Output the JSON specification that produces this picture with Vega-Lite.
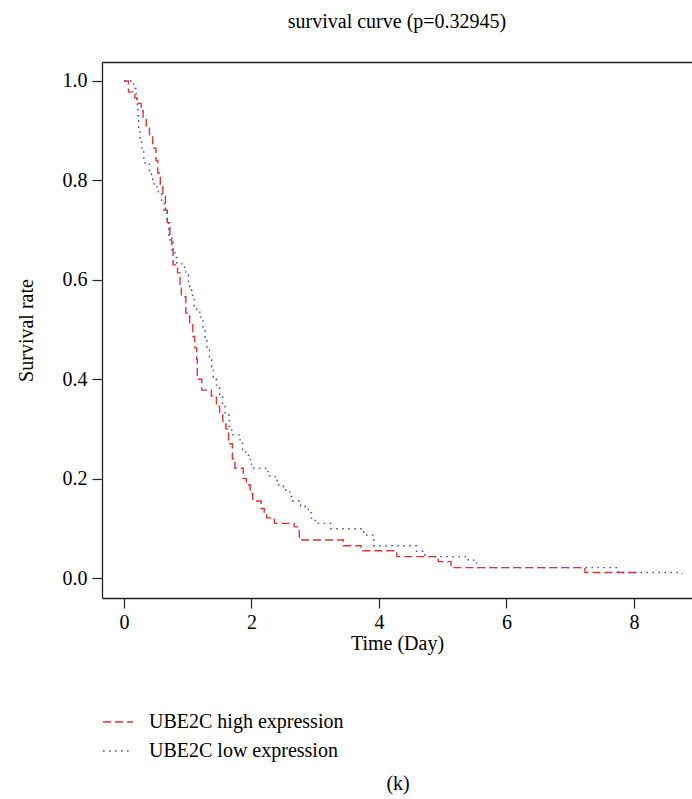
{
  "$schema": "https://vega.github.io/schema/vega-lite/v6.json",
  "autosize": "none",
  "padding": {"left": 102, "top": 62, "right": 0, "bottom": 201},
  "width": 590,
  "height": 536,
  "background": "white",
  "config": {
    "font": "Liberation Serif",
    "view": {"stroke": null},
    "axis": {"grid": false, "labelFont": "Liberation Serif", "titleFont": "Liberation Serif", "labelFontSize": 20, "titleFontSize": 20, "titleFontWeight": "normal", "labelColor": "black", "titleColor": "black", "domainColor": "#222", "domainWidth": 1.3, "tickColor": "#222", "tickWidth": 1.2, "tickSize": 10},
    "title": {"font": "Liberation Serif", "fontSize": 20, "fontWeight": "normal", "color": "black"}
  },
  "title": {"text": "survival curve (p=0.32945)", "anchor": "middle", "offset": 30},
  "datasets": {
    "surv": [
      {"group": "UBE2C high expression", "time": 0, "surv": 1.0},
      {"group": "UBE2C high expression", "time": 0.07, "surv": 0.978},
      {"group": "UBE2C high expression", "time": 0.17, "surv": 0.966},
      {"group": "UBE2C high expression", "time": 0.2, "surv": 0.955},
      {"group": "UBE2C high expression", "time": 0.27, "surv": 0.94},
      {"group": "UBE2C high expression", "time": 0.3, "surv": 0.925},
      {"group": "UBE2C high expression", "time": 0.35, "surv": 0.91},
      {"group": "UBE2C high expression", "time": 0.4, "surv": 0.89},
      {"group": "UBE2C high expression", "time": 0.45, "surv": 0.865},
      {"group": "UBE2C high expression", "time": 0.5, "surv": 0.84},
      {"group": "UBE2C high expression", "time": 0.53, "surv": 0.815},
      {"group": "UBE2C high expression", "time": 0.57, "surv": 0.79},
      {"group": "UBE2C high expression", "time": 0.61, "surv": 0.77},
      {"group": "UBE2C high expression", "time": 0.65, "surv": 0.74},
      {"group": "UBE2C high expression", "time": 0.68, "surv": 0.715},
      {"group": "UBE2C high expression", "time": 0.72, "surv": 0.69},
      {"group": "UBE2C high expression", "time": 0.75, "surv": 0.66},
      {"group": "UBE2C high expression", "time": 0.77, "surv": 0.63},
      {"group": "UBE2C high expression", "time": 0.84, "surv": 0.614},
      {"group": "UBE2C high expression", "time": 0.88, "surv": 0.59},
      {"group": "UBE2C high expression", "time": 0.9, "surv": 0.566},
      {"group": "UBE2C high expression", "time": 0.97, "surv": 0.533},
      {"group": "UBE2C high expression", "time": 1.03, "surv": 0.509},
      {"group": "UBE2C high expression", "time": 1.08, "surv": 0.486},
      {"group": "UBE2C high expression", "time": 1.11, "surv": 0.463},
      {"group": "UBE2C high expression", "time": 1.14, "surv": 0.44},
      {"group": "UBE2C high expression", "time": 1.15, "surv": 0.4},
      {"group": "UBE2C high expression", "time": 1.22, "surv": 0.378},
      {"group": "UBE2C high expression", "time": 1.37, "surv": 0.366},
      {"group": "UBE2C high expression", "time": 1.45, "surv": 0.345},
      {"group": "UBE2C high expression", "time": 1.5, "surv": 0.33},
      {"group": "UBE2C high expression", "time": 1.55, "surv": 0.31},
      {"group": "UBE2C high expression", "time": 1.6, "surv": 0.3},
      {"group": "UBE2C high expression", "time": 1.64, "surv": 0.27},
      {"group": "UBE2C high expression", "time": 1.7, "surv": 0.24},
      {"group": "UBE2C high expression", "time": 1.74, "surv": 0.221},
      {"group": "UBE2C high expression", "time": 1.87, "surv": 0.2},
      {"group": "UBE2C high expression", "time": 1.92, "surv": 0.187},
      {"group": "UBE2C high expression", "time": 1.98, "surv": 0.17},
      {"group": "UBE2C high expression", "time": 2.02, "surv": 0.155},
      {"group": "UBE2C high expression", "time": 2.15, "surv": 0.14},
      {"group": "UBE2C high expression", "time": 2.2, "surv": 0.13},
      {"group": "UBE2C high expression", "time": 2.24, "surv": 0.121},
      {"group": "UBE2C high expression", "time": 2.36, "surv": 0.11},
      {"group": "UBE2C high expression", "time": 2.67, "surv": 0.103},
      {"group": "UBE2C high expression", "time": 2.75, "surv": 0.0765},
      {"group": "UBE2C high expression", "time": 3.44, "surv": 0.065},
      {"group": "UBE2C high expression", "time": 3.72, "surv": 0.055},
      {"group": "UBE2C high expression", "time": 4.28, "surv": 0.043},
      {"group": "UBE2C high expression", "time": 4.93, "surv": 0.033},
      {"group": "UBE2C high expression", "time": 5.13, "surv": 0.021},
      {"group": "UBE2C high expression", "time": 7.23, "surv": 0.011},
      {"group": "UBE2C high expression", "time": 8.1, "surv": 0.011},
      {"group": "UBE2C low expression", "time": 0, "surv": 1.0},
      {"group": "UBE2C low expression", "time": 0.15, "surv": 0.985},
      {"group": "UBE2C low expression", "time": 0.19, "surv": 0.965},
      {"group": "UBE2C low expression", "time": 0.21, "surv": 0.945},
      {"group": "UBE2C low expression", "time": 0.22, "surv": 0.93},
      {"group": "UBE2C low expression", "time": 0.23, "surv": 0.9},
      {"group": "UBE2C low expression", "time": 0.25, "surv": 0.88},
      {"group": "UBE2C low expression", "time": 0.28, "surv": 0.86},
      {"group": "UBE2C low expression", "time": 0.31, "surv": 0.845},
      {"group": "UBE2C low expression", "time": 0.33, "surv": 0.835},
      {"group": "UBE2C low expression", "time": 0.4, "surv": 0.82},
      {"group": "UBE2C low expression", "time": 0.43, "surv": 0.807},
      {"group": "UBE2C low expression", "time": 0.45, "surv": 0.797},
      {"group": "UBE2C low expression", "time": 0.47, "surv": 0.787},
      {"group": "UBE2C low expression", "time": 0.54, "surv": 0.777},
      {"group": "UBE2C low expression", "time": 0.59, "surv": 0.76},
      {"group": "UBE2C low expression", "time": 0.63, "surv": 0.74},
      {"group": "UBE2C low expression", "time": 0.67, "surv": 0.715},
      {"group": "UBE2C low expression", "time": 0.7, "surv": 0.69},
      {"group": "UBE2C low expression", "time": 0.72, "surv": 0.675},
      {"group": "UBE2C low expression", "time": 0.77, "surv": 0.657},
      {"group": "UBE2C low expression", "time": 0.8, "surv": 0.645},
      {"group": "UBE2C low expression", "time": 0.83, "surv": 0.632},
      {"group": "UBE2C low expression", "time": 0.95, "surv": 0.62},
      {"group": "UBE2C low expression", "time": 0.97, "surv": 0.61},
      {"group": "UBE2C low expression", "time": 1.01, "surv": 0.597},
      {"group": "UBE2C low expression", "time": 1.03, "surv": 0.58},
      {"group": "UBE2C low expression", "time": 1.06, "surv": 0.569},
      {"group": "UBE2C low expression", "time": 1.1, "surv": 0.546},
      {"group": "UBE2C low expression", "time": 1.14, "surv": 0.535},
      {"group": "UBE2C low expression", "time": 1.19, "surv": 0.525},
      {"group": "UBE2C low expression", "time": 1.24, "surv": 0.505},
      {"group": "UBE2C low expression", "time": 1.27, "surv": 0.482},
      {"group": "UBE2C low expression", "time": 1.3, "surv": 0.46},
      {"group": "UBE2C low expression", "time": 1.34, "surv": 0.445},
      {"group": "UBE2C low expression", "time": 1.375, "surv": 0.425},
      {"group": "UBE2C low expression", "time": 1.4, "surv": 0.405},
      {"group": "UBE2C low expression", "time": 1.45, "surv": 0.388},
      {"group": "UBE2C low expression", "time": 1.5, "surv": 0.365},
      {"group": "UBE2C low expression", "time": 1.545, "surv": 0.345},
      {"group": "UBE2C low expression", "time": 1.585, "surv": 0.328},
      {"group": "UBE2C low expression", "time": 1.65, "surv": 0.305},
      {"group": "UBE2C low expression", "time": 1.69, "surv": 0.288},
      {"group": "UBE2C low expression", "time": 1.82, "surv": 0.274},
      {"group": "UBE2C low expression", "time": 1.86, "surv": 0.258},
      {"group": "UBE2C low expression", "time": 1.91, "surv": 0.247},
      {"group": "UBE2C low expression", "time": 1.98, "surv": 0.234},
      {"group": "UBE2C low expression", "time": 2.0, "surv": 0.221},
      {"group": "UBE2C low expression", "time": 2.26, "surv": 0.214},
      {"group": "UBE2C low expression", "time": 2.29, "surv": 0.204},
      {"group": "UBE2C low expression", "time": 2.37, "surv": 0.197},
      {"group": "UBE2C low expression", "time": 2.4, "surv": 0.187},
      {"group": "UBE2C low expression", "time": 2.5, "surv": 0.177},
      {"group": "UBE2C low expression", "time": 2.6, "surv": 0.164},
      {"group": "UBE2C low expression", "time": 2.63, "surv": 0.155},
      {"group": "UBE2C low expression", "time": 2.77, "surv": 0.145},
      {"group": "UBE2C low expression", "time": 2.84, "surv": 0.14},
      {"group": "UBE2C low expression", "time": 2.89, "surv": 0.131},
      {"group": "UBE2C low expression", "time": 2.94, "surv": 0.12},
      {"group": "UBE2C low expression", "time": 3.0, "surv": 0.11},
      {"group": "UBE2C low expression", "time": 3.24, "surv": 0.099},
      {"group": "UBE2C low expression", "time": 3.76, "surv": 0.0865},
      {"group": "UBE2C low expression", "time": 3.92, "surv": 0.065},
      {"group": "UBE2C low expression", "time": 4.59, "surv": 0.054},
      {"group": "UBE2C low expression", "time": 4.72, "surv": 0.043},
      {"group": "UBE2C low expression", "time": 5.4, "surv": 0.036},
      {"group": "UBE2C low expression", "time": 5.5, "surv": 0.03},
      {"group": "UBE2C low expression", "time": 5.55, "surv": 0.021},
      {"group": "UBE2C low expression", "time": 7.75, "surv": 0.011},
      {"group": "UBE2C low expression", "time": 8.75, "surv": 0.008}
    ],
    "caption": [{"label": "(k)"}]
  },
  "layer": [
    {
      "data": {"name": "surv"},
      "mark": {"type": "line", "interpolate": "step-after", "strokeWidth": 1.4, "clip": false},
      "encoding": {
        "x": {"field": "time", "type": "quantitative",
              "scale": {"domain": [-0.345, 8.91], "nice": false, "zero": false},
              "axis": {"orient": "bottom", "values": [0, 2, 4, 6, 8], "title": "Time (Day)", "labelPadding": 4, "titlePadding": 1, "labelAngle": 0, "ticks": true}},
        "y": {"field": "surv", "type": "quantitative",
              "scale": {"domain": [-0.0402, 1.0382], "nice": false, "zero": false},
              "axis": {"values": [0, 0.2, 0.4, 0.6, 0.8, 1.0], "format": ".1f", "title": "Survival rate", "labelPadding": 5, "titlePadding": 26}},
        "color": {"field": "group", "type": "nominal",
                  "scale": {"domain": ["UBE2C high expression", "UBE2C low expression"], "range": ["#e3322b", "#4a4ac0"]},
                  "legend": {"title": null, "orient": "none", "legendX": 0, "legendY": 644, "symbolType": "stroke", "symbolSize": 900, "symbolStrokeWidth": 1.4, "labelFontSize": 20, "labelFont": "Liberation Serif", "labelColor": "black", "labelOffset": 15, "labelLimit": 500, "rowPadding": 3}},
        "strokeDash": {"field": "group", "type": "nominal",
                       "scale": {"domain": ["UBE2C high expression", "UBE2C low expression"], "range": [[8, 4], [1.6, 4.4]]},
                       "legend": {"title": null, "orient": "none", "legendX": 0, "legendY": 644, "symbolType": "stroke", "symbolSize": 900, "symbolStrokeWidth": 1.4, "labelFontSize": 20, "labelFont": "Liberation Serif", "labelColor": "black", "labelOffset": 15, "labelLimit": 500, "rowPadding": 3}}
      }
    },
    {
      "data": {"name": "caption"},
      "mark": {"type": "text", "fontSize": 20, "font": "Liberation Serif", "color": "black", "clip": false},
      "encoding": {
        "x": {"datum": 4.3, "axis": null},
        "y": {"datum": -0.414},
        "text": {"field": "label"}
      }
    },
    {
      "data": {"name": "surv"},
      "mark": {"type": "rule", "opacity": 0},
      "encoding": {
        "x": {"field": "time", "type": "quantitative", "axis": {"orient": "top", "labels": false, "ticks": false, "title": null}}
      }
    }
  ],
  "resolve": {"axis": {"x": "independent"}}
}
